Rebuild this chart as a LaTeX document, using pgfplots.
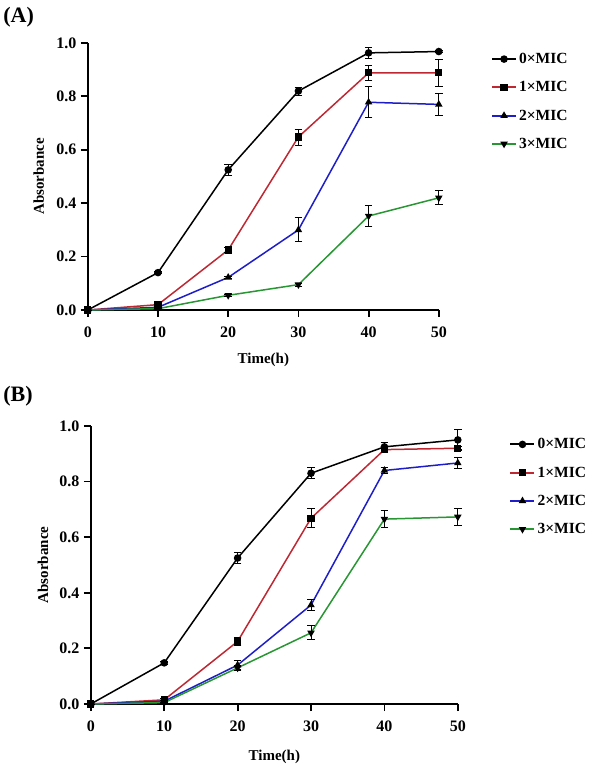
\documentclass[border=0pt]{standalone}
\usepackage{fontspec}
\setmainfont{Liberation Serif}
\usepackage{pgfplots}
\pgfplotsset{compat=1.18}
\definecolor{cred}{RGB}{190,40,50}
\definecolor{cblue}{RGB}{30,30,200}
\definecolor{cgreen}{RGB}{40,150,50}
\pgfplotsset{
  growth/.style={
    scale only axis,
    anchor=south west,
    xmin=0, xmax=50, ymin=0, ymax=1,
    clip=false,
    axis lines*=left,
    axis line style={line width=2pt, -},
    xtick={0,10,20,30,40,50},
    ytick={0,0.2,0.4,0.6,0.8,1.0},
    tick align=outside,
    major tick length=7pt,
    tick style={line width=1.8pt, black},
    /pgf/number format/assume math mode=true,
    xticklabel style={font=\fontsize{16}{18}\selectfont\bfseries, yshift=-6pt},
    yticklabel style={font=\fontsize{16}{18}\selectfont\bfseries, xshift=-1pt},
    xticklabel={\pgfmathprintnumber[fixed,precision=0]{\tick}},
    yticklabel={\pgfmathprintnumber[fixed,fixed zerofill,precision=1]{\tick}},
    label style={font=\fontsize{15}{17}\selectfont\bfseries},
    xlabel={Time(h)},
    ylabel={Absorbance},
    legend cell align=left,
    legend style={draw=none, fill=none, font=\fontsize{15.5}{17}\selectfont\bfseries, row sep=12.5pt, inner sep=0pt,
      nodes={inner sep=2pt}},
    legend image code/.code={
      \draw[#1, line width=2.2pt, mark=none] (0pt,0pt) -- (24pt,0pt);
      \draw[#1] plot coordinates {(12pt,0pt)};
    },
    every axis plot/.append style={line width=1.5pt, mark size=3pt,
      error bars/y dir=both, error bars/y explicit,
      error bars/error bar style={line width=0.9pt, black},
      error bars/error mark options={rotate=90, mark size=3.8pt, line width=0.9pt, black}},
  },
  s0/.style={black, mark=*, mark options={black, fill=black, solid}},
  s1/.style={cred, mark=square*, mark options={black, fill=black, solid, scale=0.95}},
  s2/.style={cblue, mark=triangle*, mark options={black, fill=black, solid, scale=0.95}},
  s3/.style={cgreen, mark=triangle*, mark options={black, fill=black, solid, rotate=180, scale=0.95}},
}
\begin{document}
\begin{tikzpicture}[x=1pt,y=1pt]
\path (0,0) rectangle (606,768);
\node[anchor=west, font=\fontsize{22}{24}\selectfont\bfseries] at (-2,751) {(A)};
\node[anchor=west, font=\fontsize{22}{24}\selectfont\bfseries] at (-2,372) {(B)};
% Panel A
\begin{axis}[growth, at={(86pt,458pt)}, width=351pt, height=267pt,
  ylabel style={at={(axis description cs:-0.14,0.5)}, anchor=center},
  xlabel style={at={(axis description cs:0.5,-0.187)}, anchor=center},
  legend style={at={(1.148,0.97)}, anchor=north west}]
\addplot[s0] coordinates {(0,0) +- (0,0) (10,0.14) +- (0,0.005) (20,0.525) +- (0,0.02) (30,0.82) +- (0,0.015) (40,0.963) +- (0,0.02) (50,0.968) +- (0,0.005)};
\addlegendentry{0×MIC}
\addplot[s1] coordinates {(0,0) +- (0,0) (10,0.02) +- (0,0.005) (20,0.225) +- (0,0.01) (30,0.648) +- (0,0.03) (40,0.888) +- (0,0.028) (50,0.888) +- (0,0.05)};
\addlegendentry{1×MIC}
\addplot[s2] coordinates {(0,0) +- (0,0) (10,0.01) +- (0,0.003) (20,0.122) +- (0,0.005) (30,0.30) +- (0,0.045) (40,0.778) +- (0,0.058) (50,0.77) +- (0,0.04)};
\addlegendentry{2×MIC}
\addplot[s3] coordinates {(0,0) +- (0,0) (10,0.005) +- (0,0.002) (20,0.055) +- (0,0.005) (30,0.095) +- (0,0.005) (40,0.352) +- (0,0.04) (50,0.42) +- (0,0.026)};
\addlegendentry{3×MIC}
\end{axis}
% Panel B
\begin{axis}[growth, at={(89pt,64pt)}, width=367pt, height=278pt,
  ylabel style={at={(axis description cs:-0.13,0.5)}, anchor=center},
  xlabel style={at={(axis description cs:0.5,-0.19)}, anchor=center},
  legend style={at={(1.14,0.963)}, anchor=north west}]
\addplot[s0] coordinates {(0,0) +- (0,0) (10,0.148) +- (0,0.005) (20,0.525) +- (0,0.02) (30,0.83) +- (0,0.02) (40,0.925) +- (0,0.015) (50,0.95) +- (0,0.037)};
\addlegendentry{0×MIC}
\addplot[s1] coordinates {(0,0) +- (0,0) (10,0.015) +- (0,0.005) (20,0.225) +- (0,0.015) (30,0.668) +- (0,0.034) (40,0.915) +- (0,0.01) (50,0.92) +- (0,0.005)};
\addlegendentry{1×MIC}
\addplot[s2] coordinates {(0,0) +- (0,0) (10,0.01) +- (0,0.003) (20,0.14) +- (0,0.015) (30,0.356) +- (0,0.02) (40,0.84) +- (0,0.01) (50,0.867) +- (0,0.02)};
\addlegendentry{2×MIC}
\addplot[s3] coordinates {(0,0) +- (0,0) (10,0.005) +- (0,0.002) (20,0.13) +- (0,0.01) (30,0.256) +- (0,0.025) (40,0.665) +- (0,0.03) (50,0.673) +- (0,0.03)};
\addlegendentry{3×MIC}
\end{axis}
\end{tikzpicture}
\end{document}
